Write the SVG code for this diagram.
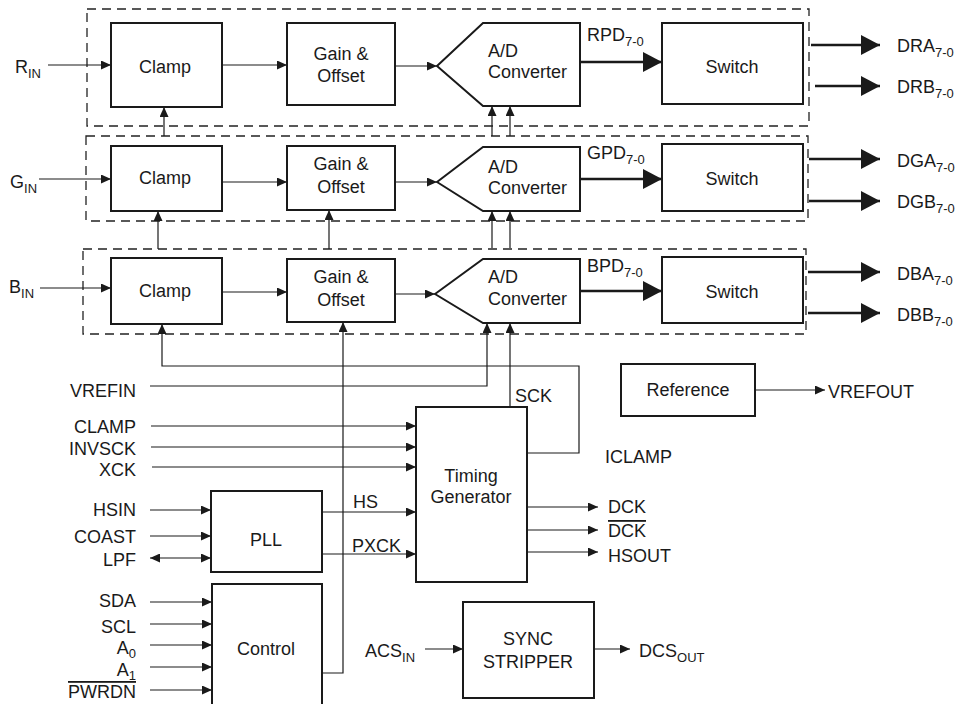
<svg xmlns="http://www.w3.org/2000/svg" width="956" height="704" viewBox="0 0 956 704">
<style>
text{font-family:"Liberation Sans",Arial,sans-serif;font-size:18px;fill:#1a1a1a}
.c{text-anchor:middle}
.r{text-anchor:end}
.box{fill:#fff;stroke:#1a1a1a;stroke-width:2}
.frame{fill:none;stroke:#222;stroke-width:1.3;stroke-dasharray:9 6}
.w{fill:none;stroke:#1a1a1a;stroke-width:1.2;marker-end:url(#ah)}
.t{fill:none;stroke:#1a1a1a;stroke-width:2.5;marker-end:url(#big)}
.s{font-size:13px}
.ov{text-decoration:overline}
</style>
<defs>
<marker id="ah" markerUnits="userSpaceOnUse" markerWidth="10" markerHeight="9" refX="10" refY="4.5" orient="auto-start-reverse"><path d="M0,0 L10,4.5 L0,9z" fill="#1a1a1a"/></marker>
<marker id="big" markerUnits="userSpaceOnUse" markerWidth="20" markerHeight="20" refX="19" refY="10" orient="auto"><path d="M0,0 L19,10 L0,20z" fill="#1a1a1a"/></marker>
</defs>
<rect width="956" height="704" fill="#fff"/>

<g id="frames">
<rect class="frame" x="87" y="9" width="722" height="117"/>
<rect class="frame" x="86" y="136" width="722" height="85"/>
<rect class="frame" x="83" y="249" width="723" height="85"/>
</g>

<g id="connectors">
<path class="w" d="M48,65 H111"/>
<path class="w" d="M222,65 H287"/>
<path class="w" d="M395,66 H437"/>
<path class="t" d="M580,62 H662"/>
<path class="t" d="M811,45 H880"/>
<path class="t" d="M815,86 H880"/>

<path class="w" d="M39,179 H111"/>
<path class="w" d="M222,182 H287"/>
<path class="w" d="M395,182 H437"/>
<path class="t" d="M580,179 H662"/>
<path class="t" d="M809,159 H880"/>
<path class="t" d="M809,201 H880"/>

<path class="w" d="M40,288 H111"/>
<path class="w" d="M222,292 H287"/>
<path class="w" d="M395,294 H435"/>
<path class="t" d="M580,291 H662"/>
<path class="t" d="M808,272 H880"/>
<path class="t" d="M808,313 H880"/>

<path class="w" d="M164,136 V107"/>
<path class="w" d="M492,136 V106"/>
<path class="w" d="M510,136 V106"/>
<path class="w" d="M158,249 V211"/>
<path class="w" d="M329,249 V210"/>
<path class="w" d="M492,248 V211"/>
<path class="w" d="M510,248 V211"/>

<path class="w" d="M527,453 H579 V366 H162 V324"/>
<path class="w" d="M322,673 H343 V322"/>
<path class="w" d="M150,386 H487 V323"/>
<path class="w" d="M510,407 V323"/>

<path class="w" d="M151,426 H416"/>
<path class="w" d="M151,447 H416"/>
<path class="w" d="M152,467 H416"/>
<path class="w" d="M322,512 H416"/>
<path class="w" d="M322,554 H416"/>

<path class="w" d="M150,510 H211"/>
<path class="w" d="M150,536 H211"/>
<path class="w" d="M150,558 H211" marker-start="url(#ah)"/>

<path class="w" d="M150,602 H212"/>
<path class="w" d="M150,624 H212"/>
<path class="w" d="M150,645 H212"/>
<path class="w" d="M150,667 H212"/>
<path class="w" d="M150,690 H212"/>

<path class="w" d="M527,507 H598"/>
<path class="w" d="M527,530 H598"/>
<path class="w" d="M527,552 H598"/>
<path class="w" d="M755,390 H825"/>
<path class="w" d="M425,649 H463"/>
<path class="w" d="M594,649 H630"/>
</g>

<g id="clamp-r"><rect class="box" x="111" y="23" width="111" height="84"/><text class="c" x="165" y="73">Clamp</text></g>
<g id="clamp-g"><rect class="box" x="111" y="146" width="111" height="65"/><text class="c" x="165" y="184">Clamp</text></g>
<g id="clamp-b"><rect class="box" x="111" y="258" width="111" height="66"/><text class="c" x="165" y="297">Clamp</text></g>

<g id="gain-r"><rect class="box" x="287" y="23" width="108" height="82"/><text class="c" x="341" y="60">Gain &amp;</text><text class="c" x="341" y="82">Offset</text></g>
<g id="gain-g"><rect class="box" x="287" y="146" width="108" height="64"/><text class="c" x="341" y="170">Gain &amp;</text><text class="c" x="341" y="193">Offset</text></g>
<g id="gain-b"><rect class="box" x="287" y="259" width="108" height="63"/><text class="c" x="341" y="283">Gain &amp;</text><text class="c" x="341" y="306">Offset</text></g>

<g id="adc-r"><polygon class="box" points="437,66 483,23 580,23 580,106 483,106"/><text x="488" y="57">A/D</text><text x="488" y="78">Converter</text></g>
<g id="adc-g"><polygon class="box" points="437,182 483,147 580,147 580,211 483,211"/><text x="488" y="173">A/D</text><text x="488" y="194">Converter</text></g>
<g id="adc-b"><polygon class="box" points="435,294 483,259 580,259 580,323 483,323"/><text x="488" y="283">A/D</text><text x="488" y="305">Converter</text></g>

<g id="switch-r"><rect class="box" x="662" y="23" width="141" height="81"/><text class="c" x="732" y="73">Switch</text></g>
<g id="switch-g"><rect class="box" x="662" y="144" width="141" height="67"/><text class="c" x="732" y="185">Switch</text></g>
<g id="switch-b"><rect class="box" x="662" y="257" width="141" height="66"/><text class="c" x="732" y="298">Switch</text></g>

<g id="timing"><rect class="box" x="416" y="407" width="111" height="175"/><text class="c" x="471" y="482">Timing</text><text class="c" x="471" y="503">Generator</text></g>
<g id="pll"><rect class="box" x="211" y="491" width="111" height="81"/><text class="c" x="266" y="546">PLL</text></g>
<g id="control"><rect class="box" x="212" y="584" width="110" height="130"/><text class="c" x="266" y="655">Control</text></g>
<g id="reference"><rect class="box" x="621" y="364" width="134" height="52"/><text class="c" x="688" y="396">Reference</text></g>
<g id="sync-stripper"><rect class="box" x="463" y="602" width="131" height="96"/><text class="c" x="528" y="645">SYNC</text><text class="c" x="528" y="668">STRIPPER</text></g>

<g id="labels">
<text x="15" y="73">R<tspan class="s" dy="5">IN</tspan></text>
<text x="10" y="188">G<tspan class="s" dy="5">IN</tspan></text>
<text x="9" y="293">B<tspan class="s" dy="5">IN</tspan></text>
<text x="587" y="41">RPD<tspan class="s" dy="5">7-0</tspan></text>
<text x="587" y="159">GPD<tspan class="s" dy="5">7-0</tspan></text>
<text x="587" y="272">BPD<tspan class="s" dy="5">7-0</tspan></text>
<text x="897" y="52">DRA<tspan class="s" dy="5">7-0</tspan></text>
<text x="897" y="93">DRB<tspan class="s" dy="5">7-0</tspan></text>
<text x="897" y="167">DGA<tspan class="s" dy="5">7-0</tspan></text>
<text x="897" y="208">DGB<tspan class="s" dy="5">7-0</tspan></text>
<text x="897" y="280">DBA<tspan class="s" dy="5">7-0</tspan></text>
<text x="897" y="321">DBB<tspan class="s" dy="5">7-0</tspan></text>

<text class="r" x="136" y="397">VREFIN</text>
<text class="r" x="136" y="433">CLAMP</text>
<text class="r" x="136" y="455">INVSCK</text>
<text class="r" x="136" y="476">XCK</text>
<text class="r" x="136" y="516">HSIN</text>
<text class="r" x="136" y="543">COAST</text>
<text class="r" x="136" y="566">LPF</text>
<text class="r" x="136" y="607">SDA</text>
<text class="r" x="136" y="633">SCL</text>
<text class="r" x="136" y="654">A<tspan class="s" dy="4">0</tspan></text>
<text class="r" x="136" y="676">A<tspan class="s" dy="4">1</tspan></text>
<text class="r ov" x="136" y="698">PWRDN</text>

<text x="353" y="508">HS</text>
<text x="352" y="552">PXCK</text>
<text x="515" y="402">SCK</text>
<text x="605" y="463">ICLAMP</text>
<text x="608" y="513">DCK</text>
<text class="ov" x="608" y="537">DCK</text>
<text x="608" y="562">HSOUT</text>
<text x="828" y="398">VREFOUT</text>
<text x="365" y="657">ACS<tspan class="s" dy="5">IN</tspan></text>
<text x="639" y="657">DCS<tspan class="s" dy="5">OUT</tspan></text>
</g>
</svg>
